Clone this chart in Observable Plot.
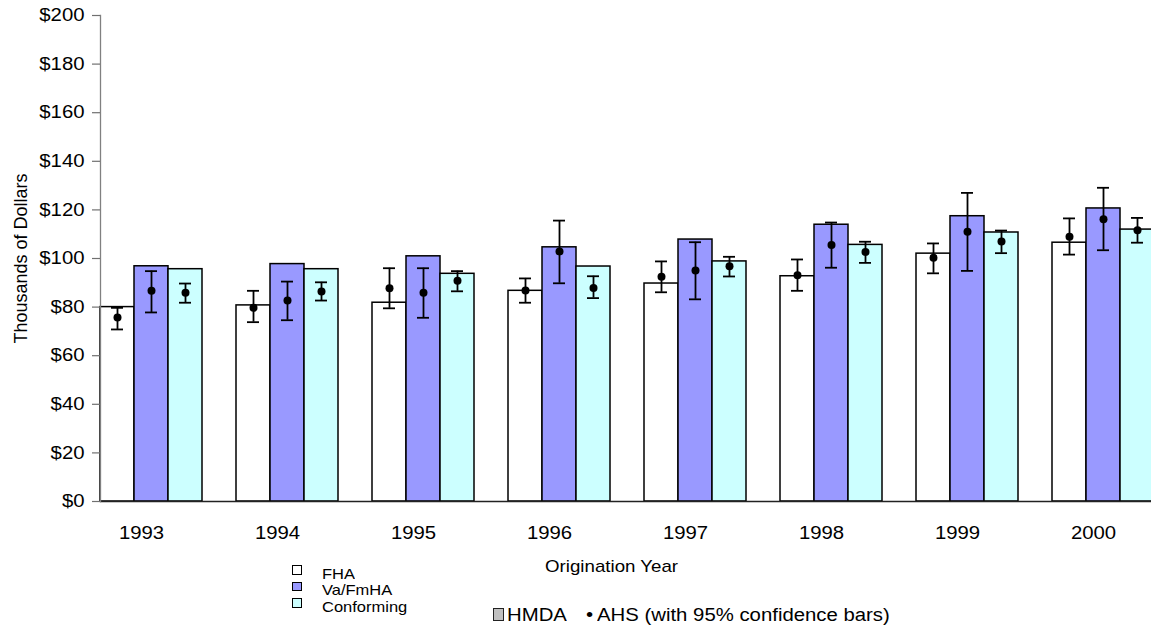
<!DOCTYPE html>
<html>
<head>
<meta charset="utf-8">
<script src="https://cdn.jsdelivr.net/npm/d3@7"></script>
<script src="https://cdn.jsdelivr.net/npm/@observablehq/plot@0.6"></script>
<style>
  html, body { margin: 0; padding: 0; background: #fff; overflow: hidden; }
  #wrap { position: relative; width: 1151px; height: 625px; font-family: "Liberation Sans", Arial, sans-serif; color: #000; }
  #wrap svg { display: block; }
  .abs { position: absolute; white-space: nowrap; }
  .xlabel { left: 545px; top: 557.6px; font-size: 17px; line-height: 17px; transform-origin: left center; transform: scaleX(1.1); }
  .leg1 { left: 292px; top: 565.5px; font-size: 15px; line-height: 16.5px; }
  .leg1 .row { position: relative; height: 16.5px; padding-left: 30px; }
  .leg1 .row span.t { display: inline-block; transform-origin: left center; transform: scaleX(1.1); }
  .leg1 .sq { position: absolute; left: 0; top: -0.5px; width: 9.5px; height: 9.5px; box-sizing: border-box; border: 1.2px solid #000; }
  .leg2 { font-size: 18px; line-height: 20px; top: 604.5px; }
  .leg2.t { transform-origin: left center; transform: scaleX(1.13); }
  .sq2 { position: absolute; left: 492.5px; top: 608px; width: 11px; height: 13px; box-sizing: border-box; border: 1.5px solid #222; background: #C0C0C0; }
</style>
</head>
<body>
<div id="wrap"></div>
<script>
// ---- data ----
const years = [1993, 1994, 1995, 1996, 1997, 1998, 1999, 2000];
const series = ["FHA", "Va/FmHA", "Conforming"];
const seriesColors = ["#FFFFFF", "#9999FF", "#CCFFFF"];

// HMDA bars (thousands of dollars)
const hmdaFHA  = [80.0, 80.7, 81.8, 86.7, 89.7, 92.7, 102.0, 106.5];
const hmdaVA   = [96.8, 97.7, 100.9, 104.6, 107.8, 113.9, 117.4, 120.6];
const hmdaConf = [95.6, 95.6, 93.7, 96.7, 98.8, 105.6, 110.7, 111.9];

// AHS points with 95% confidence bars
const ahsFHA    = [75.7, 79.7, 87.8, 86.8, 92.5, 93.1, 100.3, 108.9];
const ahsFHALo  = [70.8, 73.8, 79.5, 81.8, 86.1, 86.7, 93.9, 101.6];
const ahsFHAHi  = [79.7, 86.7, 96.0, 91.8, 98.8, 99.6, 106.2, 116.5];
const ahsVA     = [86.7, 82.7, 85.9, 102.9, 95.1, 105.6, 111.0, 116.2];
const ahsVALo   = [77.8, 74.6, 75.6, 89.8, 83.2, 96.2, 94.9, 103.4];
const ahsVAHi   = [94.8, 90.5, 96.0, 115.6, 106.7, 114.8, 127.0, 129.1];
const ahsConf   = [85.9, 86.4, 90.8, 87.9, 96.8, 102.7, 107.0, 111.6];
const ahsConfLo = [81.8, 82.7, 86.5, 83.7, 92.6, 98.2, 102.2, 106.5];
const ahsConfHi = [89.7, 90.2, 94.8, 92.7, 100.7, 106.9, 111.5, 116.7];

const yTicks = [0, 20, 40, 60, 80, 100, 120, 140, 160, 180, 200];
const yTitle = "Thousands of Dollars";
const xTitle = "Origination Year";

// ---- tables built from the arrays ----
const hmdaVals = [hmdaFHA, hmdaVA, hmdaConf];
const ahsVals = [[ahsFHA, ahsFHALo, ahsFHAHi], [ahsVA, ahsVALo, ahsVAHi], [ahsConf, ahsConfLo, ahsConfHi]];
const bars = years.flatMap((year, i) => series.map((s, j) => ({year, series: s, value: hmdaVals[j][i]})));
const pts = years.flatMap((year, i) => series.map((s, j) => ({
  year, series: s, value: ahsVals[j][0][i], lo: ahsVals[j][1][i], hi: ahsVals[j][2][i]
})));

const font = "Liberation Sans, Arial, sans-serif";

const chart = Plot.plot({
  width: 1151,
  height: 625,
  marginTop: 15,
  marginBottom: 124,
  marginLeft: 98,
  marginRight: 0,
  style: {fontFamily: font, background: "white", color: "black"},
  fx: {domain: years, range: [98, 1156.7], paddingInner: 0.25, paddingOuter: 0},
  x: {domain: series, padding: 0, axis: null},
  y: {domain: [0, 200]},
  color: {domain: series, range: seriesColors, legend: false},
  marks: [
    Plot.barY(bars, {fx: "year", x: "series", y: "value", fill: "series", stroke: "#000", strokeWidth: 1.5}),
    Plot.ruleX(pts, {fx: "year", x: "series", y1: "lo", y2: "hi", stroke: "#000", strokeWidth: 1.8}),
    Plot.tickY(pts, {fx: "year", x: "series", y: "lo", stroke: "#000", strokeWidth: 1.8, insetLeft: 11, insetRight: 11}),
    Plot.tickY(pts, {fx: "year", x: "series", y: "hi", stroke: "#000", strokeWidth: 1.8, insetLeft: 11, insetRight: 11}),
    Plot.dot(pts, {fx: "year", x: "series", y: "value", r: 4, fill: "#000"}),
    Plot.frame({anchor: "bottom", facet: "super", stroke: "#222", strokeWidth: 1.3}),
    Plot.frame({anchor: "left", facet: "super", stroke: "#808080", strokeWidth: 1.3}),
    Plot.axisY({
      ticks: yTicks, tickFormat: d => "$" + d, tickSize: 8, tickPadding: 8,
      fontSize: 18, stroke: "#707070", fill: "#000", strokeWidth: 1.2,
      label: yTitle, labelAnchor: "center", labelOffset: 86, labelArrow: false
    }),
    Plot.axisFx({anchor: "bottom", tickSize: 0, tickPadding: 25, dx: -10, fontSize: 18,
      tickFormat: d => String(d), label: null, fill: "#000"})
  ]
});

function stretch(svg, label, k) {
  svg.querySelectorAll(`g[aria-label="${label}"] text`).forEach(t => {
    let tr = t.getAttribute("transform");
    if (!tr) {
      const x = t.getAttribute("x") || 0, y = t.getAttribute("y") || 0;
      t.removeAttribute("x"); t.removeAttribute("y");
      tr = `translate(${x},${y})`;
    }
    t.setAttribute("transform", tr + ` scale(${k},1)`);
  });
}
stretch(chart, "y-axis tick label", 1.13);
stretch(chart, "fx-axis tick label", 1.13);

const wrap = document.getElementById("wrap");
wrap.appendChild(chart);

// x axis title
const xl = document.createElement("div");
xl.className = "abs xlabel";
xl.textContent = xTitle;
wrap.appendChild(xl);

// series legend
const leg1 = document.createElement("div");
leg1.className = "abs leg1";
series.forEach((s, j) => {
  const row = document.createElement("div");
  row.className = "row";
  const sq = document.createElement("span");
  sq.className = "sq";
  sq.style.background = seriesColors[j];
  const t = document.createElement("span");
  t.className = "t";
  t.textContent = s;
  row.appendChild(sq); row.appendChild(t);
  leg1.appendChild(row);
});
wrap.appendChild(leg1);

// source legend
const sq2 = document.createElement("span");
sq2.className = "sq2";
wrap.appendChild(sq2);
[["HMDA", 507], ["•", 585.5], ["AHS (with 95% confidence bars)", 597]].forEach(([txt, left]) => {
  const s = document.createElement("span");
  s.className = "abs leg2 t";
  s.style.left = left + "px";
  s.textContent = txt;
  wrap.appendChild(s);
});
</script>
</body>
</html>
